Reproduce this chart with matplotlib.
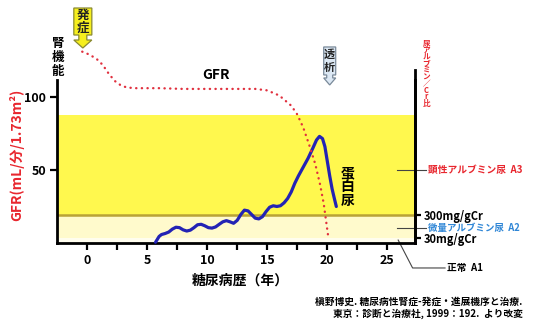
import matplotlib
matplotlib.use("Agg")
import matplotlib.pyplot as plt
from matplotlib.patches import Polygon
from matplotlib import transforms as mtrans

plt.rcParams['font.family'] = ['Noto Sans CJK JP', 'DejaVu Sans']
plt.rcParams['font.weight'] = 'bold'

# ---------------- data ----------------
gfr_years = [-0.4, 0.2, 0.8, 1.3, 1.8, 2.3, 2.8, 3.3, 4.0, 6.0, 8.0, 10.0, 12.0, 14.0,
             15.0, 16.0, 17.0, 17.5, 18.0, 18.5, 19.0, 19.4, 19.7, 19.9, 20.1]
gfr_values = [131, 129, 126, 122, 116, 111, 108, 106.5, 106, 106, 105.5, 105.5, 105.5, 105.5,
              104.5, 101, 94, 88, 79, 67, 54, 40, 27, 15, 3]

prot_years = [5.7, 5.85, 6.0, 6.2, 6.5, 6.8, 7.1, 7.4, 7.7, 8.0, 8.3, 8.6, 8.9, 9.2,
              9.5, 9.8, 10.1, 10.4, 10.7, 11.0, 11.3, 11.6, 11.9, 12.2, 12.5, 12.8,
              13.1, 13.4, 13.7, 14.0, 14.3, 14.6, 14.9, 15.2, 15.5, 15.8, 16.1, 16.4,
              16.7, 17.0, 17.3, 17.6, 18.0, 18.4, 18.8, 19.1, 19.35, 19.6, 19.8, 20.0,
              20.2, 20.4, 20.6, 20.75]
prot_values = [0.5, 2.5, 4.5, 5.8, 6.5, 7.5, 9.5, 10.8, 10.5, 9.0, 8.2, 8.8, 10.5, 12.5,
               12.8, 11.8, 10.5, 10.2, 11.0, 12.8, 14.5, 15.3, 14.5, 13.5, 15.5, 19.5,
               22.5, 22.0, 19.5, 17.0, 16.5, 18.0, 21.5, 24.5, 25.5, 25.0, 25.5, 27.5,
               30.5, 35.0, 41.0, 46.0, 52.0, 58.0, 65.0, 70.5, 73.0, 71.5, 66.0, 56.0,
               46.0, 37.0, 30.0, 25.0]

x_ticks = [0, 5, 10, 15, 20, 25]
x_minor = [2.5, 7.5, 12.5, 17.5, 22.5]
y_ticks = [50, 100]
alb_levels = [19, 3.5]           # 300 mg/gCr, 30 mg/gCr
alb_labels = ['300mg/gCr', '30mg/gCr']
zone_top = 87.7
onset_year, onset_val = -0.35, 133.5
dialysis_year, dialysis_val = 20.2, 108.2

RED = '#e8262e'
BLUE_TXT = '#2f86d6'

fig = plt.figure(figsize=(5.37, 3.2), dpi=100)
ax = fig.add_axes([57/537, 77/320, 358/537, 163/320])
ax.set_xlim(-2.5, 27.3)
ax.set_ylim(0, 111.6)

# background zones
ax.axhspan(alb_levels[0], zone_top, color='#fff84e', lw=0, zorder=0)
ax.axhspan(alb_levels[1], alb_levels[0], color='#fffacc', lw=0, zorder=0)
ax.axhspan(0, alb_levels[1], color='#fffdee', lw=0, zorder=0)
ax.axhline(alb_levels[0], color='#b9a236', lw=1.8, zorder=1)

# curves
ax.plot(prot_years, prot_values, color='#2323b4', lw=2.3, solid_capstyle='round',
        solid_joinstyle='round', zorder=3, clip_on=False)
ax.plot(gfr_years, gfr_values, color='#e0303e', lw=1.7, linestyle=(0, (0.1, 2.3)),
        dash_capstyle='round', zorder=4, clip_on=False)

# axes styling
ax.spines['top'].set_visible(False)
for s in ['left', 'bottom', 'right']:
    ax.spines[s].set_linewidth(2)
ax.plot([1, 1], [1, 1.06], transform=ax.transAxes, color='black', lw=2, clip_on=False)
ax.set_xticks(x_ticks)
ax.set_xticks(x_minor, minor=True)
ax.set_yticks(y_ticks)
ax.tick_params(axis='both', which='major', direction='out', length=5, width=1.6,
               labelsize=9, pad=3)
ax.tick_params(axis='x', which='minor', direction='out', length=5, width=1.6)
ax.tick_params(axis='y', which='minor', length=0)
for lab in ax.get_xticklabels() + ax.get_yticklabels():
    lab.set_fontweight('bold')

ax2 = ax.twinx()
ax2.set_ylim(ax.get_ylim())
ax2.set_yticks(alb_levels)
ax2.set_yticklabels(alb_labels, fontsize=8, fontweight='bold')
ax2.tick_params(axis='y', direction='out', length=4, width=1.6, pad=2)
for s in ['top', 'left', 'bottom']:
    ax2.spines[s].set_visible(False)
ax2.spines['right'].set_linewidth(2)

# texts
ax.text(10.7, 115, 'GFR', fontsize=10, fontweight='bold', ha='center', va='center', clip_on=False)
ax.text(-2.4, 127, '腎\n機\n能', fontsize=9, fontweight='bold', ha='center', va='center',
        linespacing=1.1, clip_on=False)
ax.text(21.7, 38.4, '蛋\n白\n尿', fontsize=10, fontweight='bold', ha='center', va='center',
        linespacing=1.0, clip_on=False)
ax.text(28.25, 116, '尿\nア\nル\nブ\nミ\nン\n／\nC\nr\n比', fontsize=5.5, color=RED,
        ha='center', va='center', linespacing=0.66, clip_on=False)
ax.text(12.75, -26, '糖尿病歴（年）', fontsize=10, fontweight='bold', ha='center',
        va='center', clip_on=False)
fig.text(0.032, 0.516, 'GFR(mL/分/1.73m²)', rotation=90, color=RED, fontsize=10,
         ha='center', va='center')

# albuminuria category labels
lc = '#444444'
ax.plot([25.8, 28.2], [50, 50], color=lc, lw=0.8, clip_on=False)
ax.text(28.4, 50, '顕性アルブミン尿  A3', color=RED, fontsize=7, va='center', clip_on=False)
ax.plot([25.8, 28.2], [10.3, 10.3], color=lc, lw=0.8, clip_on=False)
ax.text(28.4, 10.3, '微量アルブミン尿  A2', color=BLUE_TXT, fontsize=6.8, va='center', clip_on=False)
ax.plot([25.9, 27.1, 29.8], [2, -17.1, -17.1], color=lc, lw=0.8, clip_on=False)
ax.text(30.0, -17.1, '正常  A1', color='black', fontsize=7, va='center', clip_on=False)

# onset / dialysis arrow boxes (vertices in pixels relative to tip)
def arrow_box(xd, yd, verts_px, face, edge, label, fs, text_y):
    tr = fig.dpi_scale_trans + mtrans.ScaledTranslation(xd, yd, ax.transData)
    verts = [(vx / 100, vy / 100) for vx, vy in verts_px]
    p = Polygon(verts, closed=True, facecolor=face, edgecolor=edge, lw=0.9,
                transform=tr, clip_on=False, zorder=6)
    fig.add_artist(p)
    fig.text(0, text_y / 100, label, transform=tr, fontsize=fs, fontweight='bold',
             ha='center', va='center', linespacing=1.0, color='#222222', zorder=7)

arrow_box(onset_year, onset_val,
          [(0, 0), (9, 8), (4, 8), (4, 13), (9, 13), (9, 40), (-9, 40), (-9, 13),
           (-4, 13), (-4, 8), (-9, 8)], '#f6ef1e', '#8a8a30', '発\n症', 9, 26.5)
arrow_box(dialysis_year, dialysis_val,
          [(0, 0), (6, 7), (3, 7), (3, 10), (6, 10), (6, 38), (-6, 38), (-6, 10),
           (-3, 10), (-3, 7), (-6, 7)], '#dce8f4', '#7a8a9a', '透\n析', 8, 24)

# citation
fig.text(315/537, 0.056, '槇野博史. 糖尿病性腎症-発症・進展機序と治療.', fontsize=7,
         ha='left', va='center')
fig.text(333/537, 0.019, '東京：診断と治療社, 1999：192.  より改変', fontsize=7,
         ha='left', va='center')

fig.savefig('out.png', dpi=100)
